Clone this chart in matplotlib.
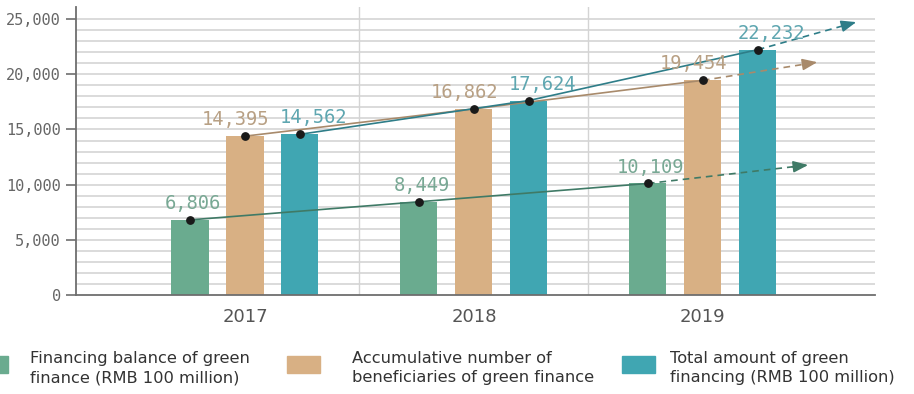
import numpy as np
import matplotlib.pyplot as plt
from matplotlib.patches import Rectangle

years = ['2017', '2018', '2019']
balance = [6806, 8449, 10109]          # financing balance, RMB 100 million
beneficiaries = [14395, 16862, 19454]  # accumulative number of beneficiaries
total = [14562, 17624, 22232]          # total green financing, RMB 100 million

# where each dashed projection arrow ends (x in category units, y in value)
proj_x = [2.46, 2.50, 2.67]
proj_y = [11780, 21100, 24730]

labels = ['Financing balance of green\nfinance (RMB 100 million)',
          'Accumulative number of\nbeneficiaries of green finance',
          'Total amount of green\nfinancing (RMB 100 million)']

bar_colors = ['#6aab8f', '#d8b084', '#40a6b2']
line_colors = ['#3f7a66', '#a88a6b', '#2e7d88']
text_colors = ['#78a894', '#b8a084', '#5ea6b0']
label_shift = [2, -7, 10]   # horizontal nudge of value labels, points

fig = plt.figure(figsize=(9.14, 3.94), dpi=100)
ax = fig.add_axes([76 / 914, 1 - 295 / 394, (875 - 76) / 914, (295 - 7) / 394])

x = np.arange(len(years))
offsets = [-0.24, 0.0, 0.24]
width = 0.162
series = [balance, beneficiaries, total]

for vals, off, bc, lc, tc, px, py, sh in zip(series, offsets, bar_colors, line_colors,
                                             text_colors, proj_x, proj_y, label_shift):
    xs = x + off
    ax.bar(xs, vals, width=width, color=bc, zorder=2)
    ax.plot(xs, vals, color=lc, lw=1.2, zorder=3)
    ax.plot([xs[-1], px], [vals[-1], py], color=lc, lw=1.2, ls=(0, (4, 3)), zorder=3)
    dx = px - xs[-1]
    dy = py - vals[-1]
    ax.annotate('', xy=(px, py), xytext=(px - dx * 0.1, py - dy * 0.1),
                arrowprops=dict(arrowstyle='-|>,head_length=0.9,head_width=0.35',
                                color=lc, lw=1.2, shrinkA=0, shrinkB=0), zorder=4)
    ax.scatter(xs, vals, s=28, color='#1a1a1a', zorder=5)
    for xi, v in zip(xs, vals):
        ax.annotate(f'{v:,}', (xi, v), xytext=(sh, 5), textcoords='offset points',
                    ha='center', va='bottom', fontsize=13.5, color=tc, zorder=6,
                    family='DejaVu Sans Mono')

ax.set_xlim(-0.738, 2.752)
ax.set_ylim(0, 26100)
ax.set_yticks(np.arange(0, 25001, 5000))
ax.yaxis.set_major_formatter(plt.FuncFormatter(lambda v, p: f'{int(v):,}'))
ax.set_xticks(x)
ax.set_xticklabels(years)

for yv in np.arange(1000, 25001, 1000):
    ax.axhline(yv, color='#d4d4d4', lw=1.2, zorder=1)
for sep in [0.5, 1.5]:
    ax.axvline(sep, color='#d4d4d4', lw=1.0, zorder=1)

for side in ['top', 'right']:
    ax.spines[side].set_visible(False)
for side in ['left', 'bottom']:
    ax.spines[side].set_color('#6e6e6e')
    ax.spines[side].set_linewidth(1.3)
ax.tick_params(axis='y', which='major', length=7, width=1.2, color='#6e6e6e',
               labelsize=11, labelcolor='#666666', pad=4)
ax.tick_params(axis='x', length=0, labelsize=13, labelcolor='#555555', pad=9)
for t in ax.get_yticklabels():
    t.set_family('DejaVu Sans Mono')

# legend keys and captions along the bottom
key_x = [-25, 287, 622]
text_x = [30, 352, 670]
for kx, tx, c, lab in zip(key_x, text_x, bar_colors, labels):
    fig.patches.append(Rectangle((kx / 914, 1 - 373 / 394), 33 / 914, 17 / 394,
                                 transform=fig.transFigure, color=c))
    fig.text(tx / 914, 1 - 351 / 394, lab, ha='left', va='top', fontsize=11.7,
             color='#333333', linespacing=1.35)

fig.savefig('out.png', dpi=100)
